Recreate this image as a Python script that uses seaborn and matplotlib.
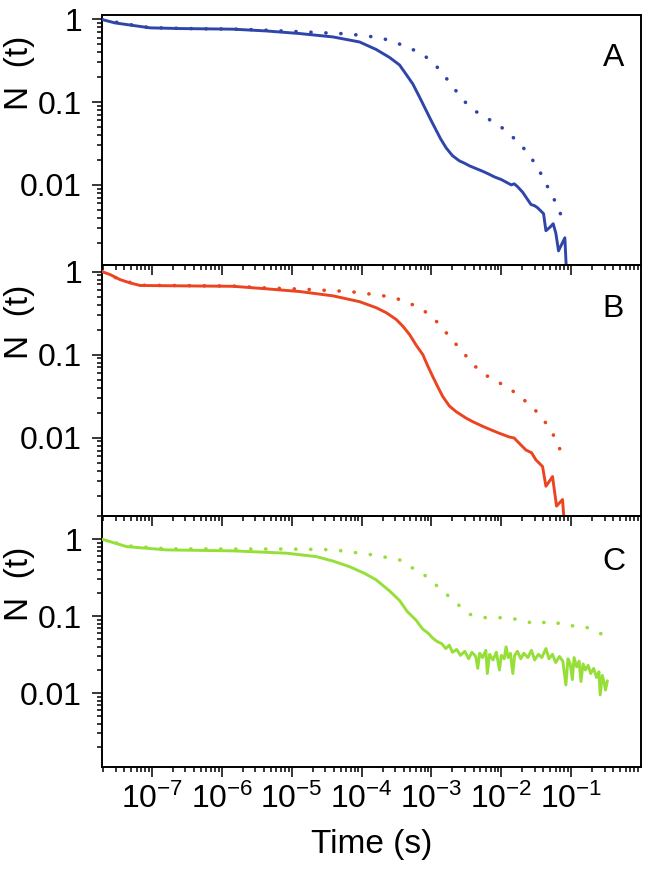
import numpy as np
import pandas as pd
import matplotlib
matplotlib.use("Agg")
import matplotlib.pyplot as plt
import seaborn as sns
from matplotlib.ticker import FixedLocator, FixedFormatter, LogLocator, NullFormatter

sns.set_style("ticks")
plt.rcParams['font.family'] = ['Liberation Sans', 'DejaVu Sans']
plt.rcParams['mathtext.fontset'] = 'custom'
plt.rcParams['mathtext.rm'] = 'Liberation Sans'
plt.rcParams['mathtext.it'] = 'Liberation Sans:italic'
plt.rcParams['mathtext.bf'] = 'Liberation Sans:bold'
plt.rcParams['mathtext.default'] = 'regular'
for k in ['text.color', 'axes.labelcolor', 'xtick.color', 'ytick.color', 'axes.edgecolor']:
    plt.rcParams[k] = 'black'

# ---------------- data ----------------
panel_labels = ["A", "B", "C"]
colors = ["#2F45AA", "#EC4420", "#96DF38"]

a_solid_t = [1.91e-8, 2.96e-8, 4.35e-8, 9.36e-8, 2.51e-7, 1.44e-6, 4.35e-6, 1.30e-5, 3.89e-5, 9.36e-5,
             1.62e-4, 2.51e-4, 3.49e-4, 4.35e-4, 5.41e-4, 6.74e-4, 8.4e-4, 9.68e-4, 1.17e-3, 1.35e-3,
             1.62e-3, 2.0e-3, 2.51e-3, 3.0e-3, 3.49e-3, 4.3e-3, 5.41e-3, 6.5e-3, 7.94e-3, 1.0e-2,
             1.17e-2, 1.39e-2, 1.53e-2, 1.69e-2, 2.01e-2, 2.66e-2, 3.0e-2, 3.3e-2, 4.02e-2, 4.35e-2,
             5.0e-2, 5.53e-2, 6.04e-2, 6.59e-2, 7.27e-2, 8.12e-2, 8.85e-2]
a_solid_n = [0.99, 0.90, 0.86, 0.785, 0.77, 0.757, 0.72, 0.67, 0.61, 0.53,
             0.43, 0.345, 0.28, 0.215, 0.165, 0.115, 0.079, 0.062, 0.0455, 0.036,
             0.028, 0.0225, 0.0195, 0.0182, 0.0170, 0.0158, 0.0146, 0.0136, 0.0125, 0.0116,
             0.0108, 0.0100, 0.0103, 0.0096, 0.0082, 0.0058, 0.0056, 0.0053, 0.0045, 0.0028,
             0.0031, 0.0034, 0.0026, 0.0016, 0.0019, 0.0023, 0.0005]

a_dot_t = [1.91e-8, 4.35e-8, 9.36e-8, 4.9e-7, 1.44e-6, 3.0e-6, 1.3e-5, 6.0e-5, 9.4e-5, 1.62e-4,
           2.5e-4, 3.49e-4, 4.35e-4, 6.7e-4, 1.04e-3, 1.45e-3, 2.0e-3, 2.8e-3, 3.9e-3, 6.4e-3,
           9.4e-3, 1.38e-2, 1.98e-2, 2.8e-2, 3.7e-2, 4.75e-2, 5.8e-2, 6.95e-2, 8.1e-2]
a_dot_n = [0.99, 0.87, 0.79, 0.765, 0.76, 0.745, 0.705, 0.665, 0.64, 0.605,
           0.557, 0.50, 0.46, 0.40, 0.305, 0.22, 0.155, 0.107, 0.081, 0.063,
           0.052, 0.0395, 0.0294, 0.020, 0.0136, 0.0090, 0.0065, 0.0046, 0.0031]

b_solid_t = [1.91e-8, 2.51e-8, 3.49e-8, 4.85e-8, 6.74e-8, 4.85e-7, 1.44e-6, 4.35e-6, 1.3e-5, 3.89e-5,
             9.36e-5, 1.62e-4, 2.25e-4, 3.13e-4, 3.89e-4, 4.85e-4, 6.04e-4, 7.52e-4, 8.85e-4, 1.04e-3,
             1.23e-3, 1.45e-3, 1.81e-3, 2.25e-3, 3.13e-3, 3.89e-3, 5.41e-3, 7.0e-3, 9.36e-3, 1.3e-2,
             1.53e-2, 1.62e-2, 2.25e-2, 2.7e-2, 3.13e-2, 3.89e-2, 4.35e-2, 5.41e-2, 6.17e-2, 7.52e-2,
             8.4e-2]
b_solid_n = [1.0, 0.92, 0.80, 0.73, 0.68, 0.67, 0.665, 0.62, 0.575, 0.51,
             0.434, 0.367, 0.32, 0.265, 0.22, 0.175, 0.13, 0.10, 0.073, 0.0547,
             0.041, 0.0313, 0.0240, 0.0206, 0.0172, 0.0156, 0.0137, 0.0125, 0.0113, 0.0102,
             0.0099, 0.0094, 0.0071, 0.0066, 0.0054, 0.0045, 0.0026, 0.0034, 0.0015, 0.0018,
             0.0005]

b_dot_t = [1.91e-8, 3.49e-8, 6.74e-8, 4.9e-7, 1.44e-6, 4.35e-6, 1.3e-5, 6.7e-5, 1.8e-4, 2.8e-4,
           4.35e-4, 7.1e-4, 1.04e-3, 1.45e-3, 2.0e-3, 2.8e-3, 3.8e-3, 5.4e-3, 7.9e-3, 1.17e-2,
           1.62e-2, 2.25e-2, 3.2e-2, 4.2e-2, 5.3e-2, 6.2e-2, 7.1e-2, 8.7e-2]
b_dot_n = [1.0, 0.80, 0.685, 0.675, 0.67, 0.635, 0.616, 0.575, 0.52, 0.489,
           0.434, 0.357, 0.283, 0.206, 0.149, 0.108, 0.079, 0.059, 0.050, 0.041,
           0.0344, 0.0272, 0.0206, 0.0156, 0.0118, 0.0088, 0.0069, 0.0056]

c_solid_t = [1.91e-8, 4.35e-8, 1.62e-7, 1.44e-6, 8.4e-6, 2.25e-5, 3.89e-5, 6.7e-5, 1.1e-4, 1.62e-4,
             2.51e-4, 3.49e-4, 4.5e-4, 6.0e-4, 7.5e-4, 9.0e-4, 1.04e-3, 1.2e-3, 1.4e-3, 1.6e-3,
             1.8e-3, 2.0e-3, 2.3e-3, 2.6e-3, 3.0e-3, 3.4e-3, 3.8e-3, 4.3e-3, 4.6e-3, 4.9e-3,
             5.4e-3, 6.0e-3, 6.3e-3, 6.8e-3, 7.6e-3, 8.5e-3, 9.4e-3, 1.0e-2, 1.1e-2, 1.17e-2,
             1.25e-2, 1.35e-2, 1.46e-2, 1.55e-2, 1.7e-2, 1.9e-2, 2.1e-2, 2.4e-2, 2.7e-2, 3.0e-2,
             3.4e-2, 3.8e-2, 4.35e-2, 4.8e-2, 5.4e-2, 6.0e-2, 6.8e-2, 7.6e-2, 8.4e-2, 9.0e-2,
             9.7e-2, 0.104, 0.11, 0.12, 0.13, 0.138, 0.148, 0.16, 0.175, 0.19,
             0.21, 0.23, 0.25, 0.26, 0.28, 0.30, 0.31, 0.33]
c_solid_n = [1.0, 0.80, 0.726, 0.705, 0.658, 0.594, 0.52, 0.44, 0.36, 0.296,
             0.213, 0.160, 0.115, 0.089, 0.068, 0.060, 0.052, 0.047, 0.044, 0.038,
             0.042, 0.034, 0.037, 0.031, 0.035, 0.028, 0.034, 0.030, 0.021, 0.033,
             0.029, 0.036, 0.018, 0.032, 0.027, 0.034, 0.020, 0.031, 0.028, 0.040,
             0.029, 0.033, 0.018, 0.031, 0.035, 0.028, 0.033, 0.029, 0.036, 0.027,
             0.032, 0.029, 0.038, 0.028, 0.032, 0.025, 0.030, 0.026, 0.0128, 0.028,
             0.024, 0.015, 0.029, 0.022, 0.026, 0.0142, 0.024, 0.020, 0.023, 0.018,
             0.021, 0.016, 0.019, 0.0095, 0.017, 0.013, 0.011, 0.0145]

c_dot_t = [1.91e-8, 4.35e-8, 1.62e-7, 1.44e-6, 8.4e-6, 3.9e-5, 1.45e-4, 3.49e-4, 4.35e-4, 6.7e-4,
           9.7e-4, 1.35e-3, 1.91e-3, 2.6e-3, 3.5e-3, 5.1e-3, 7.5e-3, 1.17e-2, 1.8e-2, 2.5e-2,
           3.5e-2, 4.85e-2, 7.5e-2, 0.104, 0.138, 0.20, 0.25, 0.32]
c_dot_n = [1.0, 0.82, 0.75, 0.745, 0.745, 0.73, 0.625, 0.54, 0.46, 0.387,
           0.296, 0.224, 0.171, 0.133, 0.106, 0.097, 0.094, 0.097, 0.0895, 0.083,
           0.088, 0.077, 0.083, 0.075, 0.075, 0.068, 0.060, 0.057]

solid_series = [(a_solid_t, a_solid_n), (b_solid_t, b_solid_n), (c_solid_t, c_solid_n)]
dot_series = [(a_dot_t, a_dot_n), (b_dot_t, b_dot_n), (c_dot_t, c_dot_n)]

ylims = [(0.00108, 1.12), (0.00114, 1.2), (0.0011, 2.0)]
ylabel_y = [0.77, 0.773, 0.73]
letter_y = [0.828, 0.825, 0.817]

x_major = [1e-7, 1e-6, 1e-5, 1e-4, 1e-3, 1e-2, 1e-1]
x_major_labels = [r'$10^{-7}$', r'$10^{-6}$', r'$10^{-5}$', r'$10^{-4}$',
                  r'$10^{-3}$', r'$10^{-2}$', r'$10^{-1}$']
y_major = [0.01, 0.1, 1]
y_major_labels = ["0.01", "0.1", "1"]

# ---------------- figure ----------------
fig = plt.figure(figsize=(6.46, 8.86), dpi=100)
L, R = 0.1574, 0.9923
bounds = [(0.7009, 0.983), (0.4176, 0.7009), (0.1343, 0.4176)]
axes = [fig.add_axes([L, b, R - L, t - b]) for b, t in bounds]

for i, ax in enumerate(axes):
    ax.set_facecolor('none')
    ax.set_xscale('log')
    ax.set_yscale('log')
    dt, dn = dot_series[i]
    sns.lineplot(x=dt, y=dn, ax=ax, color=colors[i], lw=2.6, estimator=None,
                 linestyle=(0, (0.05, 4.1)), dash_capstyle='round', zorder=2)
    st, sn = solid_series[i]
    sns.lineplot(x=st, y=sn, ax=ax, color=colors[i], lw=2.1, estimator=None, zorder=3)

    ax.set_xlim(1.9e-8, 1.0)
    ax.set_ylim(*ylims[i])

    ax.xaxis.set_major_locator(FixedLocator(x_major))
    ax.xaxis.set_minor_locator(LogLocator(base=10, subs=np.arange(2, 10), numticks=30))
    ax.xaxis.set_minor_formatter(NullFormatter())
    ax.yaxis.set_major_locator(FixedLocator(y_major))
    ax.yaxis.set_major_formatter(FixedFormatter(y_major_labels))
    ax.yaxis.set_minor_locator(LogLocator(base=10, subs=np.arange(2, 10), numticks=30))
    ax.yaxis.set_minor_formatter(NullFormatter())

    ax.tick_params(axis='both', which='major', direction='out', length=7, width=1.1,
                   color='black')
    ax.tick_params(axis='both', which='minor', direction='out', length=3.5, width=1.1,
                   color='black')
    ax.tick_params(axis='y', which='both', left=True, right=False, pad=7, labelsize=23)
    ax.tick_params(axis='x', which='both', bottom=True, top=False, pad=5, labelsize=23)
    if i < 2:
        ax.tick_params(axis='x', labelbottom=False)
        ax.set_xlabel('')
    else:
        ax.xaxis.set_major_formatter(FixedFormatter(x_major_labels))
        ax.set_xlabel('Time (s)', fontsize=24, labelpad=10)

    for sp in ax.spines.values():
        sp.set_visible(True)
        sp.set_linewidth(1.4)
        sp.set_color('black')

    ax.set_ylabel('N  (t)', fontsize=24, va='center')
    ax.yaxis.set_label_coords(-0.152, ylabel_y[i])
    ax.text(0.949, letter_y[i], panel_labels[i], transform=ax.transAxes,
            ha='center', va='center', fontsize=23)

fig.savefig('out.png', dpi=100)
